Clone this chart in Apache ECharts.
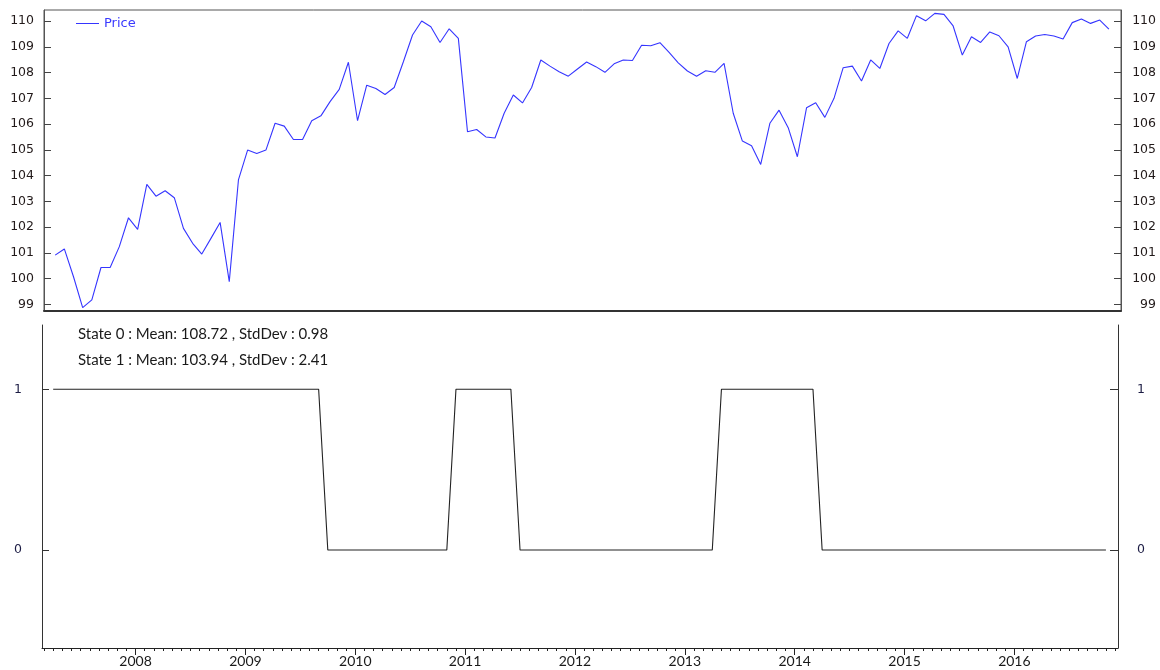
<!DOCTYPE html>
<html>
<head>
<meta charset="utf-8">
<script src="https://cdn.jsdelivr.net/npm/echarts@6/dist/echarts.min.js"></script>
<style>
  html, body { margin: 0; padding: 0; background: #ffffff; }
  #chart { width: 1160px; height: 670px; }
</style>
</head>
<body>
<div id="chart"></div>
<script>
// First monthly observation: April 2007
const startYear = 2007;
const startMonth = 4;

// Monthly price series
const price = [
  100.91, 101.15, 100.07, 98.87, 99.17, 100.43, 100.43, 101.24, 102.36, 101.91,
  103.66, 103.20, 103.41, 103.14, 101.95, 101.37, 100.95, 101.56, 102.18, 99.88,
  103.83, 104.99, 104.86, 104.99, 106.03, 105.92, 105.40, 105.40, 106.13, 106.32,
  106.87, 107.35, 108.40, 106.13, 107.51, 107.38, 107.15, 107.42, 108.42, 109.46,
  110.00, 109.78, 109.17, 109.70, 109.33, 105.70, 105.79, 105.50, 105.46, 106.42,
  107.13, 106.82, 107.42, 108.49, 108.25, 108.03, 107.86, 108.14, 108.41, 108.23,
  108.01, 108.34, 108.49, 108.47, 109.06, 109.04, 109.16, 108.78, 108.38, 108.06,
  107.86, 108.07, 108.01, 108.36, 106.42, 105.34, 105.16, 104.43, 106.03, 106.54,
  105.86, 104.73, 106.63, 106.83, 106.26, 107.00, 108.19, 108.25, 107.67, 108.49,
  108.16, 109.13, 109.62, 109.33, 110.21, 110.01, 110.30, 110.26, 109.81, 108.68,
  109.39, 109.17, 109.58, 109.43, 109.00, 107.77, 109.20, 109.42, 109.48, 109.42,
  109.30, 109.94, 110.08, 109.91, 110.04, 109.69
];

// Most likely regime for each month
const state = [
  1, 1, 1, 1, 1, 1, 1, 1, 1, 1, 1, 1, 1, 1, 1, 1, 1, 1, 1, 1,
  1, 1, 1, 1, 1, 1, 1, 1, 1, 1,
  0, 0, 0, 0, 0, 0, 0, 0, 0, 0, 0, 0, 0, 0,
  1, 1, 1, 1, 1, 1, 1,
  0, 0, 0, 0, 0, 0, 0, 0, 0, 0, 0, 0, 0, 0, 0, 0, 0, 0, 0, 0, 0, 0,
  1, 1, 1, 1, 1, 1, 1, 1, 1, 1, 1,
  0, 0, 0, 0, 0, 0, 0, 0, 0, 0, 0, 0, 0, 0, 0, 0,
  0, 0, 0, 0, 0, 0, 0, 0, 0, 0, 0, 0, 0, 0, 0, 0
];

const yearLabels = ['2008', '2009', '2010', '2011', '2012', '2013', '2014', '2015', '2016'];
const priceTicks = [99, 100, 101, 102, 103, 104, 105, 106, 107, 108, 109, 110];
const stateTicks = [0, 1];
const stateNotes = [
  'State 0 : Mean: 108.72 , StdDev : 0.98',
  'State 1 : Mean: 103.94 , StdDev : 2.41'
];
const seriesName = 'Price';

// Month labels "YYYY-MM" for each observation index
const months = price.map((_, i) => {
  const m = startMonth - 1 + i;
  return (startYear + Math.floor(m / 12)) + '-' + String(m % 12 + 1).padStart(2, '0');
});
const yearPos = yearLabels.map(y => months.indexOf(y + '-01'));
const monthPos = [];
for (let k = -1; k <= price.length; k++) monthPos.push(k);

const priceData = price.map((v, i) => [i, v]);
const stateData = state.map((v, i) => [i, v]);

const X_MIN = -1.22, X_MAX = 116.32;
const tickFont = { fontFamily: 'DejaVu Sans', fontSize: 12.5, color: '#221a1a' };
const stateTickFont = { fontFamily: 'DejaVu Sans', fontSize: 12.5, color: '#1c1c44' };

const chart = echarts.init(document.getElementById('chart'), null, { renderer: 'canvas' });

chart.setOption({
  animation: false,
  backgroundColor: '#ffffff',
  legend: {
    data: [{ name: seriesName, icon: 'rect' }],
    left: 71, top: 12,
    itemWidth: 23, itemHeight: 1,
    textStyle: { fontFamily: 'DejaVu Sans', fontSize: 13, color: '#3a3aff' }
  },
  grid: [
    { left: 44, top: 10, width: 1077, height: 301, show: true, borderColor: '#555555', borderWidth: 1 },
    { left: 42, top: 325, width: 1076, height: 323 }
  ],
  xAxis: [
    {
      gridIndex: 0, type: 'value', min: X_MIN, max: X_MAX,
      axisLine: { show: true, onZero: false, lineStyle: { color: '#333333', width: 2 } },
      axisTick: { show: false }, axisLabel: { show: false }, splitLine: { show: false }
    },
    {
      gridIndex: 1, type: 'value', min: X_MIN, max: X_MAX, position: 'bottom',
      axisLine: { show: true, onZero: false, lineStyle: { color: '#222222', width: 1 } },
      axisTick: { show: true, length: 7, customValues: yearPos, lineStyle: { color: '#222222' } },
      axisLabel: {
        show: true, customValues: yearPos, margin: 6,
        fontFamily: 'Lato', fontSize: 14, color: '#1a1a1a',
        formatter: v => months[Math.round(v)].slice(0, 4)
      },
      splitLine: { show: false }
    },
    {
      gridIndex: 1, type: 'value', min: X_MIN, max: X_MAX, position: 'bottom',
      axisLine: { show: false, onZero: false },
      axisTick: { show: true, length: 3, customValues: monthPos, lineStyle: { color: '#222222' } },
      axisLabel: { show: false }, splitLine: { show: false }
    }
  ],
  yAxis: [
    {
      gridIndex: 0, type: 'value', position: 'left', min: 98.74, max: 110.43,
      axisLine: { show: true, onZero: false, lineStyle: { color: '#555555' } },
      axisTick: { show: true, inside: true, length: 7, customValues: priceTicks, lineStyle: { color: '#444444' } },
      axisLabel: Object.assign({ customValues: priceTicks, margin: 10 }, tickFont),
      splitLine: { show: false }
    },
    {
      gridIndex: 0, type: 'value', position: 'right', min: 98.74, max: 110.43,
      axisLine: { show: true, onZero: false, lineStyle: { color: '#555555' } },
      axisTick: { show: true, inside: true, length: 7, customValues: priceTicks, lineStyle: { color: '#444444' } },
      axisLabel: Object.assign({ customValues: priceTicks, margin: 35, align: 'right' }, tickFont),
      splitLine: { show: false }
    },
    {
      gridIndex: 1, type: 'value', position: 'left', min: -0.61, max: 1.40,
      axisLine: { show: true, onZero: false, lineStyle: { color: '#333333' } },
      axisTick: { show: true, inside: true, length: 7, customValues: stateTicks, lineStyle: { color: '#333333' } },
      axisLabel: Object.assign({ customValues: stateTicks, margin: 20 }, stateTickFont),
      splitLine: { show: false }
    },
    {
      gridIndex: 1, type: 'value', position: 'right', min: -0.61, max: 1.40,
      axisLine: { show: true, onZero: false, lineStyle: { color: '#333333' } },
      axisTick: { show: true, inside: true, length: 8, customValues: stateTicks, lineStyle: { color: '#333333' } },
      axisLabel: Object.assign({ customValues: stateTicks, margin: 19 }, stateTickFont),
      splitLine: { show: false }
    }
  ],
  graphic: stateNotes.map((t, i) => ({
    type: 'text', x: 78, y: 334 + i * 26,
    style: { text: t, fontFamily: 'Lato', fontSize: 15, fill: '#1a1a1a', verticalAlign: 'middle' }
  })),
  series: [
    {
      name: seriesName, type: 'line', xAxisIndex: 0, yAxisIndex: 0,
      data: priceData, symbol: 'none', silent: true,
      lineStyle: { color: '#3535ff', width: 1.1 }, itemStyle: { color: '#3535ff' }
    },
    {
      name: 'State', type: 'line', xAxisIndex: 1, yAxisIndex: 2,
      data: stateData, symbol: 'none', silent: true,
      lineStyle: { color: '#222222', width: 1.1 }, itemStyle: { color: '#222222' }
    }
  ]
});
</script>
</body>
</html>
